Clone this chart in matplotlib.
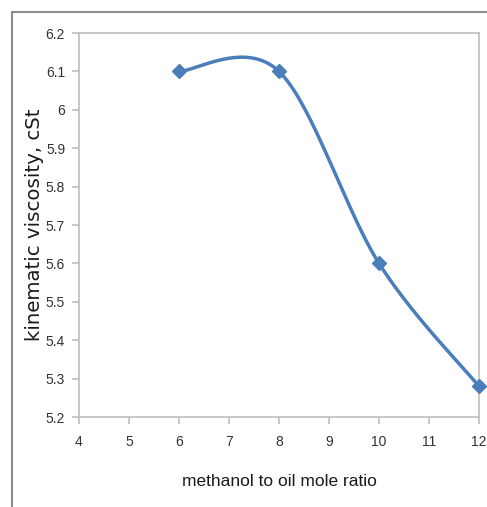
import numpy as np
import matplotlib
matplotlib.use("Agg")
import matplotlib.pyplot as plt
from matplotlib.patches import Rectangle

# data
ratio = [6, 8, 10, 12]
viscosity = [6.1, 6.1, 5.6, 5.28]
x_ticks = [4, 5, 6, 7, 8, 9, 10, 11, 12]
y_ticks = [5.2, 5.3, 5.4, 5.5, 5.6, 5.7, 5.8, 5.9, 6, 6.1, 6.2]
y_tick_labels = ["5.2", "5.3", "5.4", "5.5", "5.6", "5.7", "5.8", "5.9", "6", "6.1", "6.2"]

BLUE = "#4a7ebb"
NARROW = ["Liberation Sans", "DejaVu Sans"]


def smooth_curve(xs, ys, sx, sy, n=60):
    """Excel-like smoothed line (Catmull-Rom through bezier control points)"""
    px = np.array(xs, float) * sx
    py = np.array(ys, float) * sy
    pts = np.column_stack([px, py])
    out = []
    for i in range(len(pts) - 1):
        p0 = pts[i - 1] if i > 0 else pts[i]
        p1 = pts[i]
        p2 = pts[i + 1]
        p3 = pts[i + 2] if i + 2 < len(pts) else pts[i + 1]
        c1 = p1 + (p2 - p0) / 6.0
        c2 = p2 - (p3 - p1) / 6.0
        t = np.linspace(0, 1, n)[:, None]
        seg = ((1 - t) ** 3) * p1 + 3 * ((1 - t) ** 2) * t * c1 \
            + 3 * (1 - t) * t ** 2 * c2 + t ** 3 * p2
        out.append(seg)
    curve = np.vstack(out)
    return curve[:, 0] / sx, curve[:, 1] / sy


fig = plt.figure(figsize=(4.87, 5.07), dpi=100)
ax = fig.add_axes([0.1622, 0.1775, 0.8214, 0.7574])

# outer chart frame (cut off at right and bottom)
fig.patches.append(Rectangle((12 / 487, -0.1), 1.2, 1 - 12 / 507 + 0.1,
                             transform=fig.transFigure, fill=False,
                             edgecolor="#8c8c8c", linewidth=1.5))

# scale so the smoothing is done in roughly screen units
cx, cy = smooth_curve(ratio, viscosity, 400 / 8.0, 384 / 1.0)
ax.plot(cx, cy, color=BLUE, linewidth=2.5, solid_capstyle="round", clip_on=False)
ax.plot(ratio, viscosity, linestyle="none", marker="D", markersize=7.5,
        color=BLUE, clip_on=False, zorder=3)

ax.set_xlim(4, 12)
ax.set_ylim(5.2, 6.2)
ax.set_xticks(x_ticks)
ax.set_yticks(y_ticks)
ax.set_yticklabels(y_tick_labels)

for s in ax.spines.values():
    s.set_color("#bfbfbf")
    s.set_linewidth(1.2)
ax.tick_params(axis="both", colors="#bfbfbf", length=5, width=1.2,
               labelcolor="#333333", labelsize=10)
ax.tick_params(axis="x", pad=8)
ax.tick_params(axis="y", pad=5)
for lab in ax.get_xticklabels() + ax.get_yticklabels():
    lab.set_family(NARROW)

ax.set_xlabel("methanol to oil mole ratio", fontsize=12.5, family=NARROW,
              color="#1a1a1a", labelpad=18)
ax.set_ylabel("kinematic viscosity, cSt", fontsize=14.2, family="DejaVu Sans",
              color="#1a1a1a")
ax.yaxis.set_label_coords(-0.088, 0.5)

fig.savefig("out.png", dpi=100)
